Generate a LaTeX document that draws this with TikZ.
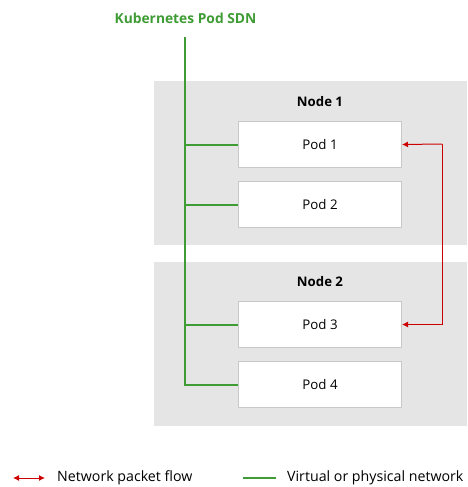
\documentclass[tikz,border=0pt]{standalone}
\usepackage{fontspec}
\setmainfont{Open Sans}
\usetikzlibrary{arrows.meta}
\definecolor{rhgreen}{HTML}{3F9C35}
\definecolor{rhred}{HTML}{CC0000}
\definecolor{nodegray}{HTML}{E5E5E5}
\definecolor{podborder}{HTML}{C8C8C8}
\begin{document}
\begin{tikzpicture}[x=1pt,y=-1pt,
  hostbox/.style={fill=nodegray,draw=none},
  podbox/.style={draw=podborder,line width=1pt,fill=white,minimum width=163pt,minimum height=46pt,inner sep=0pt,font=\fontsize{13.3}{15}\selectfont,anchor=north west},
  netline/.style={rhgreen,line width=2pt},
  flow/.style={rhred,line width=1pt,-{Latex[length=6pt,width=6pt]}},
  lbl/.style={inner sep=0pt,font=\fontsize{14.2}{16}\selectfont}]
\useasboundingbox (0,0) rectangle (468,487);
\fill[hostbox] (154,81) rectangle (467,245);
\fill[hostbox] (154,262) rectangle (467,426);
\node[lbl,font=\fontsize{13.2}{15}\selectfont\bfseries] (n1) at (320,102) {Node 1};
\node[lbl,font=\fontsize{13.2}{15}\selectfont\bfseries] (n2) at (320,282) {Node 2};
\node[podbox] (p1) at (238,121) {Pod 1};
\node[podbox] (p2) at (238,181) {Pod 2};
\node[podbox] (p3) at (238,301) {Pod 3};
\node[podbox] (p4) at (238,361) {Pod 4};
\node[lbl,text=rhgreen,font=\fontsize{13.8}{16}\selectfont\bfseries] (sdn) at (185.5,18) {Kubernetes Pod SDN};
\coordinate (top) at (185,37);
\draw[netline] (top) |- (p4.west);
\draw[netline] (top|-p1.west) -- (p1.west);
\draw[netline] (top|-p2.west) -- (p2.west);
\draw[netline] (top|-p3.west) -- (p3.west);
\coordinate (rx) at (442,144);
\draw[flow] (rx|-p3.east) -- (p3.east);
\draw[rhred,line width=1pt] (rx|-p3.east) -- (rx);
\draw[flow] (rx) -- (p1.east);
% legend
\coordinate (la) at (13,478);
\coordinate (lb) at (45,478);
\draw[rhred,line width=1pt,{Latex[length=6pt,width=6pt]}-{Latex[length=6pt,width=6pt]}] (la) -- (lb);
\node[lbl,anchor=west] (lt1) at (57,478) {Network packet flow};
\coordinate (lc) at (243,478);
\coordinate (ld) at (276,478);
\draw[netline] (lc) -- (ld);
\node[lbl,anchor=west] (lt2) at (287,478) {Virtual or physical network};
\end{tikzpicture}
\end{document}
